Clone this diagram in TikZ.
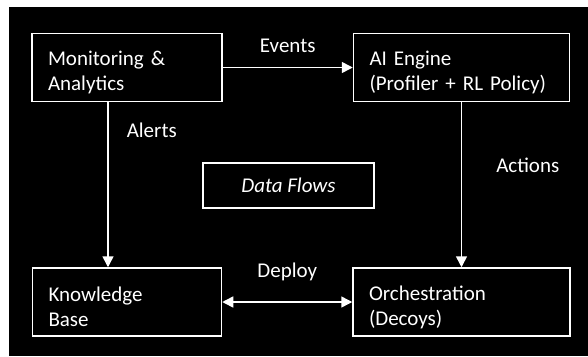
\documentclass[tikz,border=0pt]{standalone}
\usepackage{fontspec}
\setmainfont{Carlito}
\usetikzlibrary{arrows.meta, positioning}

\begin{document}
\begin{tikzpicture}[
    x=1pt, y=1pt,
    node distance=165pt and 130pt,
    block/.style={rectangle, draw=white, fill=black, line width=1.5pt, text=white, font=\fontsize{21}{25}\selectfont, align=left, minimum height=68pt, inner xsep=16pt},
    lowered/.style={execute at begin node={\rule{0pt}{25pt}}},
    arrow/.style={-{Triangle[length=11pt, width=11pt]}, line width=1.5pt, draw=white},
    tag/.style={text=white, font=\fontsize{21}{25}\selectfont, inner sep=0pt}
]
\fill[white] (0,0) rectangle (588,-356);
\fill[black] (9,-7) rectangle (588,-356);
\useasboundingbox (0,0) rectangle (588,-356);
\node[block, lowered, text width=158pt] (monitor) at (127,-67.5) {Monitoring \&\\Analytics};
\node[block, lowered, text width=184pt, right=of monitor] (engine) {AI Engine\\(Profiler + RL Policy)};
\node[block, lowered, text width=157pt, below=of monitor] (kb) {Knowledge\\Base};
\node[block, lowered, text width=185pt, below=of engine] (orch) {Orchestration\\(Decoys)};
\node[block, font=\fontsize{21}{25}\selectfont\itshape, align=center, minimum width=171pt, minimum height=45pt] (flows) at (288.5,-185.5) {Data Flows};
\draw[arrow] (monitor) -- node[tag, above=14pt] {Events} (engine);
\draw[arrow] ([xshift=-19pt]monitor.south) -- node[tag, pos=0.17, right=18pt] {Alerts} ([xshift=-19pt]kb.north);
\draw[arrow] (engine) -- node[tag, pos=0.38, right=34pt] {Actions} (orch);
\draw[arrow, {Triangle[length=11pt, width=11pt]}-{Triangle[length=11pt, width=11pt]}] (kb) -- node[tag, above=20pt] {Deploy} (orch);
\end{tikzpicture}
\end{document}
